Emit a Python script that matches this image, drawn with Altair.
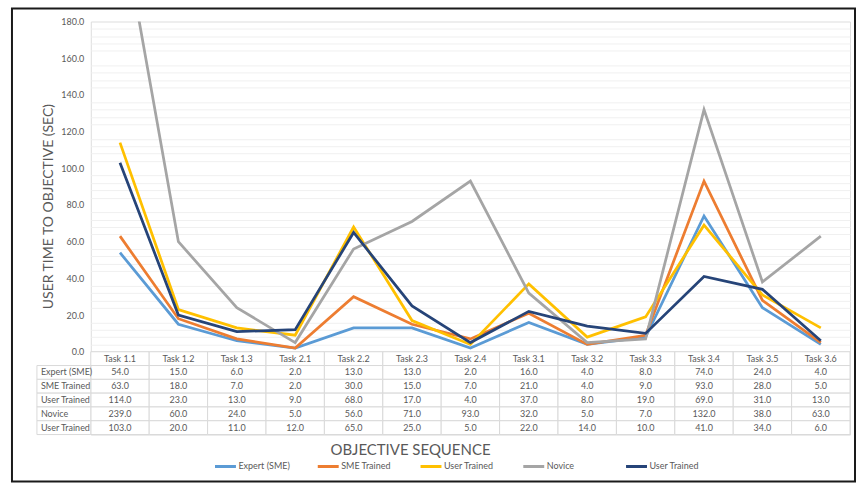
import altair as alt
import pandas as pd

tasks = ["Task 1.1", "Task 1.2", "Task 1.3", "Task 2.1", "Task 2.2", "Task 2.3", "Task 2.4",
         "Task  3.1", "Task 3.2", "Task 3.3", "Task 3.4", "Task 3.5", "Task 3.6"]
series_keys = ["s0", "s1", "s2", "s3", "s4"]
series_names = ["Expert (SME)", "SME Trained", "User Trained", " Novice", "User Trained"]
legend_names = ["Expert (SME)", "SME Trained", "User Trained", "Novice", "User Trained"]
colors = ["#5B9BD5", "#ED7D31", "#FFC000", "#A5A5A5", "#264478"]

expert = [54, 15, 6, 2, 13, 13, 2, 16, 4, 8, 74, 24, 4]
sme_trained = [63, 18, 7, 2, 30, 15, 7, 21, 4, 9, 93, 28, 5]
user_trained = [114, 23, 13, 9, 68, 17, 4, 37, 8, 19, 69, 31, 13]
novice = [239, 60, 24, 5, 56, 71, 93, 32, 5, 7, 132, 38, 63]
user_trained_2 = [103, 20, 11, 12, 65, 25, 5, 22, 14, 10, 41, 34, 6]
all_series = [expert, sme_trained, user_trained, novice, user_trained_2]

y_major = list(range(0, 181, 20))
y_minor = [v for v in range(0, 181, 4) if v % 20 != 0]

FONT = "Lato"
GREY = "#595959"

rows = []
for key, vals in zip(series_keys, all_series):
    for t, v in zip(tasks, vals):
        rows.append({"task": t, "series": key, "value": v})
df = pd.DataFrame(rows)

row_order = ["hdr"] + series_keys
trows = []
for t in tasks:
    trows.append({"task": t, "row": "hdr", "label": t})
for key, vals in zip(series_keys, all_series):
    for t, v in zip(tasks, vals):
        trows.append({"task": t, "row": key, "label": f"{v:.1f}"})
tdf = pd.DataFrame(trows)
ldf = pd.DataFrame({"row": series_keys, "name": series_names})

label_expr = ("{" + ",".join(f"'{k}':'{n}'" for k, n in zip(series_keys, legend_names)) + "}[datum.value]")

x_top = alt.X("task:N", sort=tasks, scale=alt.Scale(type="point", padding=0.5), axis=None)
y_scale = alt.Scale(domain=[0, 180], nice=False)

lines = alt.Chart(df).mark_line(strokeWidth=2.75, clip=True).encode(
    x=x_top,
    y=alt.Y("value:Q", scale=y_scale,
            axis=alt.Axis(values=y_major, format=".1f", labelFont=FONT, labelFontSize=9,
                          labelColor=GREY, labelPadding=7, ticks=False, domain=False,
                          gridColor="#d9d9d9", gridWidth=1,
                          title="USER TIME TO OBJECTIVE (SEC)", titleFont=FONT,
                          titleFontSize=14, titleColor=GREY, titleFontWeight="normal",
                          titleX=-42, titleY=185, titleAngle=270, titleAlign="center",
                          titleBaseline="middle")),
    color=alt.Color("series:N", scale=alt.Scale(domain=series_keys, range=colors),
                    legend=alt.Legend(orient="none", legendX=123, legendY=434,
                                      direction="horizontal", title=None,
                                      symbolType="stroke", symbolStrokeWidth=3,
                                      symbolSize=441, labelFont=FONT, labelFontSize=9,
                                      labelColor=GREY, gridAlign="all", columnPadding=21,
                                      labelOffset=1, padding=0, labelExpr=label_expr)),
)

minor = alt.Chart(df).mark_point(opacity=0, clip=True).encode(
    x=x_top,
    y=alt.Y("value:Q", scale=y_scale,
            axis=alt.Axis(orient="right", values=y_minor, labels=False, ticks=False,
                          domain=False, grid=True, gridColor="#f0f0f0", gridWidth=1,
                          title=None)),
)

frame = alt.Chart(pd.DataFrame({"f": [0]})).mark_rect(
    fill="transparent", stroke="#1a1a1a", strokeWidth=2
).encode(x=alt.value(-79), x2=alt.value(766), y=alt.value(-13), y2=alt.value(461))

top = alt.layer(minor, lines, frame).resolve_axis(y="independent").properties(
    width=761, height=331)

x_tab = alt.X("task:N", sort=tasks,
              scale=alt.Scale(type="band", paddingInner=0, paddingOuter=0),
              axis=alt.Axis(labels=False, ticks=False, domain=False,
                            title="OBJECTIVE SEQUENCE", titleFont=FONT, titleFontSize=15,
                            titleColor=GREY, titleFontWeight="normal", titleX=320,
                            titleY=15, titleAlign="center", titleBaseline="middle"))
y_tab = alt.Y("row:N", sort=row_order,
              scale=alt.Scale(domain=row_order, paddingInner=0, paddingOuter=0), axis=None)

cells = alt.Chart(tdf).mark_rect(fill="white", stroke="#d9d9d9", strokeWidth=1).encode(
    x=x_tab, y=y_tab)
cell_text = alt.Chart(tdf).mark_text(font=FONT, fontSize=9, color=GREY).encode(
    x=x_tab, y=y_tab, text="label:N")
lab_cells = alt.Chart(ldf).mark_rect(fill="white", stroke="#d9d9d9", strokeWidth=1).encode(
    x=alt.value(-54), x2=alt.value(0), y=y_tab)
lab_text = alt.Chart(ldf).mark_text(font=FONT, fontSize=9, color=GREY, align="left").encode(
    x=alt.value(-50), y=y_tab, text="name:N")

table = alt.layer(cells, cell_text, lab_cells, lab_text).properties(width=761, height=83)

chart = alt.vconcat(top, table, spacing=0, bounds="flush").properties(
    padding={"left": 10, "top": 6, "right": 0, "bottom": 0}
).configure_view(stroke=None).configure(background="white")

chart.save("out.html", embed_options={"renderer": "svg", "actions": False})
